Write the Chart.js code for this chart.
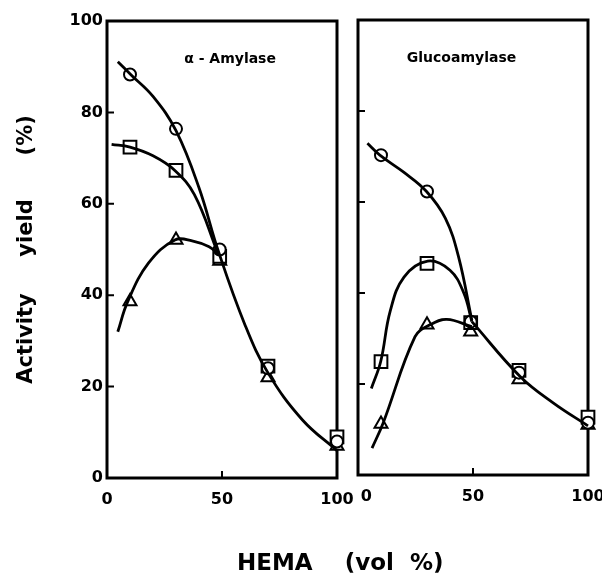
<!DOCTYPE html>
<html>
<head>
<meta charset="utf-8">
<script src="https://cdn.jsdelivr.net/npm/chart.js@4/dist/chart.umd.min.js"></script>
<style>
    body { margin: 0; background: #fff; width: 602px; height: 573px; overflow: hidden; position: relative; }
    canvas { position: absolute; top: 0; }
    #leftChart { left: 0; }
    #rightChart { left: 337px; }
    #xTitle {
        position: absolute; left: 237px; top: 550px;
        font: bold 23px "DejaVu Sans", sans-serif; line-height: 25px;
        white-space: pre; color: #000;
    }
</style>
</head>
<body>
<canvas id="leftChart" width="356" height="573"></canvas>
<canvas id="rightChart" width="265" height="573"></canvas>
<div id="xTitle">HEMA    (vol  %)</div>
<script>
'use strict';

// measured HEMA contents (vol %)
var markerX = [10, 30, 49, 70, 100];

// alpha-amylase, activity yield (%)
var amylaseCircles = [88.3, 76.4, 50, 24, 8];
var amylaseSquares = [72.4, 67.3, 48.5, 24.5, 9];
var amylaseTriangles = [38.6, 52.1, 47.5, 22, 7];

// hand drawn curves, alpha-amylase
var amylaseCircleCurveX = [4.7, 10.5, 20, 30, 40, 48.5, 60, 70, 85, 100];
var amylaseCircleCurveY = [91.1, 88.2, 83.5, 76, 63.5, 49.5, 33.5, 23, 12.7, 6];
var amylaseSquareCurveX = [2, 10, 20, 29.5, 38, 48];
var amylaseSquareCurveY = [73, 72.4, 70.5, 67.3, 62, 49.5];
var amylaseTriangleCurveX = [4.7, 9, 18, 29.5, 37, 44.4, 48.5];
var amylaseTriangleCurveY = [32, 38.6, 47, 52.1, 51.9, 50.6, 49];

// glucoamylase, activity yield (%)
var glucoCircles = [70.3, 62.3, 33.7, 22.5, 11.5];
var glucoSquares = [24.9, 46.5, 33.5, 23, 12.7];
var glucoTriangles = [11.2, 33, 31.5, 21, 11];

// hand drawn curves, glucoamylase
var glucoCircleCurveX = [4.1, 9.5, 20, 29.8, 38, 43.7, 49.5];
var glucoCircleCurveY = [72.9, 70.3, 66.5, 62.3, 56.4, 48, 34];
var glucoSquareCurveX = [5.8, 9.9, 14, 20, 30.3, 40, 46, 49.5];
var glucoSquareCurveY = [19, 25, 36, 43.5, 47, 45, 40, 33.7];
var glucoTriangleCurveX = [6.1, 10.9, 24.8, 31.3, 38.6, 49.5];
var glucoTriangleCurveY = [5.9, 11.4, 30.4, 33, 34.2, 32.6];
var glucoTailX = [49.5, 70.6, 85, 100];
var glucoTailY = [33.7, 21.6, 15.8, 10.8];

var innerYTicks = [20, 40, 60, 80];
var innerXTicks = [50];

var FONT = '"DejaVu Sans", "Liberation Sans", sans-serif';

function toPoints(xs, ys) {
    var points = [];
    for (var i = 0; i < xs.length; i++) {
        points.push({x: xs[i], y: ys[i]});
    }
    return points;
}

function curve(xs, ys) {
    return {
        data: toPoints(xs, ys),
        showLine: true,
        borderColor: '#000',
        borderWidth: 2.8,
        pointRadius: 0,
        tension: 0.4,
        clip: false,
        fill: false
    };
}

function markers(ys, style, radius) {
    return {
        data: toPoints(markerX, ys),
        showLine: false,
        clip: false,
        pointStyle: style,
        pointRadius: radius,
        pointBackgroundColor: '#fff',
        pointBorderColor: '#000',
        pointBorderWidth: 2
    };
}

// frame, inward ticks and enzyme name
var panelDecor = {
    id: 'panelDecor',
    beforeDatasetsDraw: function (chart, args, opts) {
        var ctx = chart.ctx;
        var area = chart.chartArea;
        var xs = chart.scales.x;
        var ys = chart.scales.y;
        ctx.save();
        ctx.strokeStyle = '#000';
        ctx.lineWidth = 2;
        ctx.beginPath();
        for (var i = 0; i < innerYTicks.length; i++) {
            var py = ys.getPixelForValue(innerYTicks[i]);
            ctx.moveTo(area.left, py);
            ctx.lineTo(area.left + 7, py);
        }
        for (var j = 0; j < innerXTicks.length; j++) {
            var px = xs.getPixelForValue(innerXTicks[j]);
            ctx.moveTo(px, area.bottom);
            ctx.lineTo(px, area.bottom - 7);
        }
        ctx.stroke();
        ctx.lineWidth = 3;
        ctx.strokeRect(area.left, area.top, area.right - area.left, area.bottom - area.top);

        ctx.fillStyle = '#000';
        ctx.font = 'bold 14px ' + FONT;
        ctx.textAlign = 'center';
        ctx.textBaseline = 'middle';
        ctx.fillText(opts.label, xs.getPixelForValue(opts.labelX), ys.getPixelForValue(opts.labelY));
        ctx.restore();
    }
};

function createPanel(canvasId, datasets, opts) {
    var ctx = document.getElementById(canvasId).getContext('2d');

    return new Chart(ctx, {
        type: 'scatter',
        data: {datasets: datasets},
        plugins: [panelDecor],
        options: {
            responsive: false,
            animation: false,
            devicePixelRatio: 1,
            layout: {padding: {top: opts.top, right: opts.right, left: 0, bottom: 0}},
            plugins: {
                legend: {display: false},
                tooltip: {enabled: false},
                panelDecor: {label: opts.label, labelX: opts.labelX, labelY: 91.5}
            },
            scales: {
                x: {
                    type: 'linear',
                    min: 0,
                    max: 100,
                    grid: {display: false, drawTicks: false},
                    border: {display: false},
                    ticks: {
                        stepSize: 50,
                        padding: 12,
                        maxRotation: 0,
                        color: '#000',
                        font: {family: FONT, size: 16, weight: 'bold'},
                        callback: function (value) {
                            // the right panel's 0 sits a little right of its tick
                            if (value === 0 && !opts.yLabels) {
                                return '   0';
                            }
                            return String(value);
                        }
                    },
                    afterFit: function (scale) {
                        scale.height = opts.xHeight;
                        scale.paddingLeft = 0;
                        scale.paddingRight = 0;
                    }
                },
                y: {
                    min: 0,
                    max: 100,
                    grid: {display: false, drawTicks: false},
                    border: {display: false},
                    ticks: {
                        display: opts.yLabels,
                        stepSize: 20,
                        padding: 4,
                        color: '#000',
                        font: {family: FONT, size: 16, weight: 'bold'}
                    },
                    title: {
                        display: opts.yLabels,
                        text: 'Activity     yield      (%)',
                        color: '#000',
                        padding: {top: 14, bottom: 0},
                        font: {family: FONT, size: 21, weight: 'bold'}
                    },
                    afterFit: function (scale) {
                        scale.width = opts.yWidth;
                        scale.paddingTop = 0;
                        scale.paddingBottom = 0;
                    }
                }
            }
        }
    });
}

createPanel('leftChart', [
    curve(amylaseCircleCurveX, amylaseCircleCurveY),
    curve(amylaseSquareCurveX, amylaseSquareCurveY),
    curve(amylaseTriangleCurveX, amylaseTriangleCurveY),
    markers(amylaseCircles, 'circle', 6),
    markers(amylaseSquares, 'rect', 9),
    markers(amylaseTriangles, 'triangle', 7.5)
], {top: 21, right: 19, xHeight: 95, yWidth: 107, yLabels: true, label: '\u03B1 - Amylase', labelX: 53.5});

createPanel('rightChart', [
    curve(glucoCircleCurveX, glucoCircleCurveY),
    curve(glucoSquareCurveX, glucoSquareCurveY),
    curve(glucoTriangleCurveX, glucoTriangleCurveY),
    curve(glucoTailX, glucoTailY),
    markers(glucoCircles, 'circle', 6),
    markers(glucoSquares, 'rect', 9),
    markers(glucoTriangles, 'triangle', 7.5)
], {top: 20, right: 14, xHeight: 98, yWidth: 21, yLabels: false, label: 'Glucoamylase', labelX: 45});
</script>
</body>
</html>
